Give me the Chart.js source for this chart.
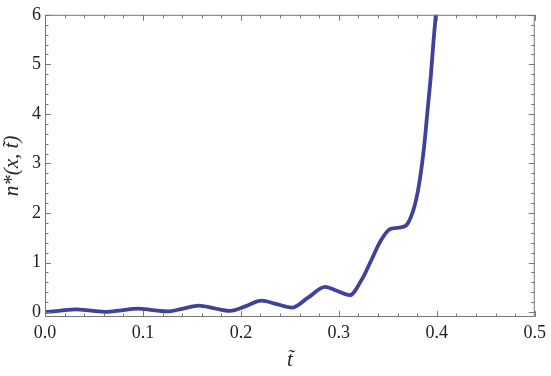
<!DOCTYPE html>
<html>
<head>
<meta charset="utf-8">
<script src="https://cdn.jsdelivr.net/npm/chart.js@4"></script>
<style>
  html, body { margin: 0; padding: 0; background: #fff; }
  #wrap { width: 551px; height: 376px; }
</style>
</head>
<body>
<div id="wrap"><canvas id="grafica" width="551" height="376"></canvas></div>
<script>
// datos
const tiempos = [0, 0.016, 0.032, 0.047, 0.0625, 0.078, 0.0946, 0.11, 0.125, 0.141, 0.157, 0.173,
  0.189, 0.205, 0.221, 0.2365, 0.252, 0.2685, 0.286, 0.298, 0.311, 0.323, 0.333, 0.343, 0.353,
  0.3635, 0.37, 0.377, 0.382, 0.387, 0.3905, 0.394, 0.3966, 0.399, 0.4015];
const densidad = [0.0, 0.03, 0.053, 0.027, 0.003, 0.035, 0.07, 0.04, 0.012, 0.07, 0.13, 0.075,
  0.025, 0.12, 0.23, 0.16, 0.09, 0.29, 0.51, 0.43, 0.34, 0.64, 1.04, 1.45, 1.68,
  1.71, 1.78, 2.12, 2.59, 3.33, 4.06, 4.79, 5.46, 6.0, 6.6];
const ticksX = [0, 0.1, 0.2, 0.3, 0.4, 0.5];
const ticksY = [0, 1, 2, 3, 4, 5, 6];

const puntos = tiempos.map((t, i) => ({ x: t, y: densidad[i] }));

const fuente = "'Liberation Serif', 'Times New Roman', serif";

// marco y marcas hacia dentro, estilo Mathematica
const marco = {
  id: "marco",
  afterDraw(chart) {
    const ctx = chart.ctx;
    const a = chart.chartArea;
    const sx = chart.scales.x;
    const sy = chart.scales.y;
    ctx.save();
    ctx.strokeStyle = "#777";
    ctx.lineWidth = 1;
    ctx.strokeRect(a.left + 0.5, a.top + 0.5, a.right - a.left - 1, a.bottom - a.top - 1);
    ctx.beginPath();
    for (let i = 0; i <= 25; i++) {
      const v = i * 0.02;
      const px = Math.round(sx.getPixelForValue(v)) + 0.5;
      const len = i % 5 === 0 ? 6 : 3.5;
      ctx.moveTo(px, a.bottom); ctx.lineTo(px, a.bottom - len);
      ctx.moveTo(px, a.top); ctx.lineTo(px, a.top + len);
    }
    for (let i = 0; i <= 30; i++) {
      const v = i * 0.2;
      const py = Math.round(sy.getPixelForValue(v)) + 0.5;
      const len = i % 5 === 0 ? 6 : 3.5;
      ctx.moveTo(a.left, py); ctx.lineTo(a.left + len, py);
      ctx.moveTo(a.right, py); ctx.lineTo(a.right - len, py);
    }
    ctx.stroke();
    ctx.restore();
  }
};

new Chart(document.getElementById("grafica"), {
  type: "line",
  data: {
    datasets: [{
      data: puntos,
      borderColor: "#41419b",
      borderWidth: 3.8,
      pointRadius: 0,
      cubicInterpolationMode: "monotone",
      clip: 0,
      fill: false
    }]
  },
  options: {
    responsive: false,
    animation: false,
    layout: { padding: { top: 13, right: 13, left: 0, bottom: 0 } },
    plugins: {
      legend: { display: false },
      tooltip: { enabled: false }
    },
    scales: {
      x: {
        type: "linear",
        min: 0,
        max: 0.5,
        afterBuildTicks: s => { s.ticks = ticksX.map(v => ({ value: v })); },
        afterFit: s => { s.height = 59; },
        grid: { display: false, drawTicks: false },
        border: { display: false },
        ticks: {
          color: "#222",
          padding: 5,
          font: { family: fuente, size: 18 },
          callback: v => v.toFixed(1)
        },
        title: {
          display: true,
          text: "t\u0303",
          color: "#222",
          font: { family: fuente, size: 21, style: "italic" },
          padding: { top: 0, bottom: 3 }
        }
      },
      y: {
        min: -0.1,
        max: 6,
        afterBuildTicks: s => { s.ticks = ticksY.map(v => ({ value: v })); },
        afterFit: s => { s.width = 45; },
        grid: { display: false, drawTicks: false },
        border: { display: false },
        ticks: {
          color: "#222",
          padding: 4,
          font: { family: fuente, size: 18 },
          callback: v => String(v)
        },
        title: {
          display: true,
          text: "n*(x, t\u0303)",
          color: "#222",
          font: { family: fuente, size: 21, style: "italic" },
          padding: { top: 0, bottom: 0 }
        }
      }
    }
  },
  plugins: [marco]
});
</script>
</body>
</html>
